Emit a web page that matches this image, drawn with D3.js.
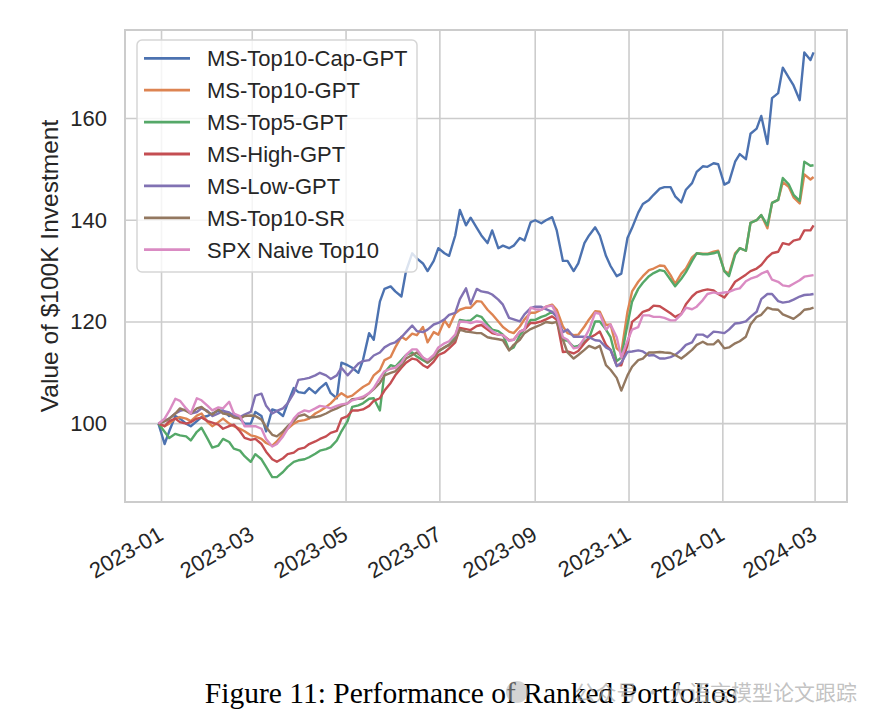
<!DOCTYPE html>
<html>
<head>
<meta charset="utf-8">
<script src="https://cdn.jsdelivr.net/npm/d3@7"></script>
<style>
  body { margin: 0; background: #fff; }
  text { font-family: "Liberation Sans", Arial, Helvetica, sans-serif; fill: #262626; }
</style>
</head>
<body>
<svg id="chart" width="882" height="728"></svg>
<script>
// twice-weekly samples (Tue / Fri)
const dates = [
  '2022-12-30','2023-01-03','2023-01-06','2023-01-10','2023-01-13','2023-01-17','2023-01-20','2023-01-24','2023-01-27',
  '2023-01-31','2023-02-03','2023-02-07','2023-02-10','2023-02-14','2023-02-17','2023-02-21','2023-02-24','2023-02-28',
  '2023-03-03','2023-03-07','2023-03-10','2023-03-14','2023-03-17','2023-03-21','2023-03-24','2023-03-28','2023-03-31',
  '2023-04-04','2023-04-07','2023-04-11','2023-04-14','2023-04-18','2023-04-21','2023-04-25','2023-04-28','2023-05-02',
  '2023-05-05','2023-05-09','2023-05-12','2023-05-16','2023-05-19','2023-05-23','2023-05-26','2023-05-30','2023-06-02',
  '2023-06-06','2023-06-09','2023-06-13','2023-06-16','2023-06-20','2023-06-23','2023-06-27','2023-06-30','2023-07-04',
  '2023-07-07','2023-07-11','2023-07-14','2023-07-18','2023-07-21','2023-07-25','2023-07-28','2023-08-01','2023-08-04',
  '2023-08-08','2023-08-11','2023-08-15','2023-08-18','2023-08-22','2023-08-25','2023-08-29','2023-09-01','2023-09-05',
  '2023-09-08','2023-09-12','2023-09-15','2023-09-19','2023-09-22','2023-09-26','2023-09-29','2023-10-03','2023-10-06',
  '2023-10-10','2023-10-13','2023-10-17','2023-10-20','2023-10-24','2023-10-27','2023-10-31','2023-11-03','2023-11-07',
  '2023-11-10','2023-11-14','2023-11-17','2023-11-21','2023-11-24','2023-11-28','2023-12-01','2023-12-05','2023-12-08',
  '2023-12-12','2023-12-15','2023-12-19','2023-12-22','2023-12-26','2023-12-29','2024-01-02','2024-01-05','2024-01-09',
  '2024-01-12','2024-01-16','2024-01-19','2024-01-23','2024-01-26','2024-01-30','2024-02-02','2024-02-06','2024-02-09',
  '2024-02-13','2024-02-16','2024-02-20','2024-02-23','2024-02-27','2024-02-29'];

const seriesNames = ['MS-Top10-Cap-GPT','MS-Top10-GPT','MS-Top5-GPT','MS-High-GPT','MS-Low-GPT','MS-Top10-SR','SPX Naive Top10'];

const top10Cap = [
  100, 96, 98.5, 101.5, 101, 100, 99.5, 100.5, 101.3, 101.5, 102, 102.5, 102.6, 101.5, 102, 101, 100, 100,
  102.3, 101.5, 98.5, 102.8, 102.5, 101.5, 104, 107, 106.2, 106, 107, 106, 107, 108, 106, 105, 112, 111.5,
  111, 110, 112.5, 117.8, 116.5, 124, 126.5, 127, 126, 125, 130, 133.5, 132.5, 131.5, 130, 132, 134.5, 133.5,
  133, 137, 142, 139, 140.5, 138.5, 137, 135.5, 138, 134.5, 135, 134.5, 135, 136.5, 136, 139.6, 140, 139.4,
  140, 140.6, 138, 132, 132, 130, 131.5, 135.5, 137, 138.6, 137, 133, 131, 129, 129.5, 136.5, 138.5, 141.5,
  143.2, 144, 145, 146.2, 146.5, 146.5, 144.7, 143.5, 146, 147.3, 149.5, 150.6, 150.5, 151.2, 151, 147, 147.5, 151.5,
  153, 152, 157, 158, 160.5, 155, 164, 165, 170, 168, 166.5, 163.6, 173, 171.5, 173];
const top10 = [
  100, 99.5, 100, 101, 101.3, 101, 100.5, 101.6, 102, 100.3, 99.5, 100.3, 101, 100, 99.5, 99, 98.5, 97.7,
  97.5, 97, 96.2, 95.7, 96.5, 98, 99, 100, 100.5, 100.7, 101, 102, 102.5, 103.3, 104, 105.2, 106, 105.2,
  105.5, 106.5, 107.2, 107.9, 109.5, 110.5, 112.5, 113.1, 115, 117.1, 116.5, 117.7, 117.4, 119, 116, 118, 117.5, 120.3,
  119, 121.7, 122.4, 122.8, 122.8, 124.1, 124, 122.4, 121.5, 120.1, 119, 118.1, 117.8, 119.1, 120.5, 121.8, 121.8, 122.4,
  123, 123.4, 122.4, 119.1, 117.8, 117.4, 117.5, 119.1, 120.5, 122.1, 122, 119.4, 119.5, 114.8, 114, 122, 126, 127.9,
  129, 130.2, 130.5, 131.1, 131, 129.2, 127.5, 129.5, 130.5, 132.7, 133.5, 133.4, 133.4, 133.8, 134, 130, 129.5, 133.5,
  134.5, 134, 139.5, 140, 141, 138.4, 143.4, 144, 147.5, 146.5, 144.5, 143.3, 149, 148, 148.5];
const top5 = [
  100, 98.4, 97.2, 98, 97.7, 97.5, 96.7, 98.4, 99.2, 97, 95.3, 95.7, 97, 96.4, 95.1, 94.7, 93.6, 92.5,
  94, 93, 91.5, 89.5, 89.5, 90.5, 91.5, 92.5, 92.8, 93, 93.4, 94.1, 94.7, 95, 95.4, 96.7, 98.5, 100.5,
  103.3, 103.6, 104, 104.9, 105, 102.6, 110, 111.5, 111.2, 112.5, 113.5, 114, 113.2, 112.5, 112, 113, 114.2, 115,
  115.5, 117, 120.4, 120.2, 120.3, 121.3, 121, 119.5, 118.5, 118.2, 117.5, 114.5, 115, 117.4, 118.5, 120.4, 120.4, 121,
  121.3, 122, 121.1, 116.5, 116.3, 115.1, 115.3, 116.1, 116.8, 120.1, 120.1, 118.5, 117, 112.3, 113, 119.5, 124, 126.5,
  127.7, 129, 129.6, 130.2, 130, 128.3, 127, 128.5, 129.8, 132, 133.5, 133.3, 133.3, 133.5, 133.8, 130, 129, 133.2,
  134.5, 134, 139.5, 140, 141, 139, 143.4, 144, 148.3, 147, 145, 143.8, 151.5, 150.7, 150.8];
const high = [
  100, 99.5, 100.5, 101, 100.3, 100, 100.3, 101, 101.2, 100.5, 100.2, 99.8, 99, 99.5, 99.8, 98.5, 97.2, 96.8,
  97, 96, 94.5, 93, 92.5, 93.2, 94, 94.3, 95, 95.3, 96, 96.5, 97, 97.5, 98.2, 98.6, 101, 101.5,
  102.6, 102.6, 102.8, 103.5, 104.5, 105, 106.5, 108, 109.5, 111, 112, 112.8, 112.6, 111.5, 111, 112.2, 113.5, 114,
  114.8, 116, 118.8, 118.6, 118.4, 119.2, 119.4, 118.5, 117.8, 117.5, 117.4, 116.4, 116.5, 118.1, 118.5, 119.8, 119.8, 120.1,
  120.5, 121.1, 120.4, 114.1, 114.2, 113.8, 114.3, 115.8, 116.8, 117.5, 118.1, 115.5, 114.5, 111.5, 111.5, 115.5, 120, 121,
  122, 122.4, 123.2, 123.1, 122.5, 121.7, 121, 121.6, 123.5, 125, 125.8, 126.2, 126.4, 126.2, 125.5, 124.8, 126, 127.9,
  128.5, 129.3, 130, 130.5, 131.2, 132.7, 133.5, 133.8, 135.5, 135.2, 136, 136.3, 138, 138, 139];
const low = [
  100, 100.5, 101, 102, 102.5, 102.8, 102, 102.3, 103, 102.5, 101.5, 102, 102.5, 102.2, 101.5, 101.3, 101.8, 102.3,
  105.5, 105.9, 103.5, 102, 102.5, 103, 104, 106, 108.6, 108.8, 109, 109.5, 110, 109.5, 108.8, 109.5, 111, 109.5,
  110.5, 111.8, 112.3, 112.5, 113.4, 114, 115, 115.7, 116, 117, 118, 119.3, 118.2, 118, 118.5, 119.5, 119.8, 120.5,
  121.4, 121.8, 124.5, 126.6, 123.5, 126.5, 126, 125.8, 125.4, 124.4, 123.4, 120.8, 120.5, 120.1, 121.5, 122.7, 123, 123,
  122.5, 122, 121, 118, 118.5, 117.1, 117.1, 117.1, 117, 116.4, 116.3, 115, 114.5, 111.3, 112, 114.1, 114.2, 114.4,
  114.2, 113.4, 113.5, 112.8, 112.8, 113.1, 113.5, 114.5, 115.5, 116, 117.5, 117.5, 117, 118.1, 118, 117.8, 118.5, 119.7,
  119.8, 120.1, 121, 122, 124.5, 125.5, 125.5, 124.1, 123.8, 124, 124.4, 125, 125.3, 125.4, 125.5];
const top10SR = [
  100, 100.5, 101, 102, 103, 102.5, 102, 103, 103.3, 102.3, 101.8, 102.8, 102, 101.8, 101.2, 101, 101.5, 101.6,
  101.5, 100.8, 99.3, 97.8, 97.5, 98.5, 99.5, 100.5, 101.5, 101.8, 101.2, 101.3, 101.5, 102, 102.5, 103, 103.5, 104,
  104.8, 104.9, 105, 106, 106.8, 108, 109.5, 110, 110.3, 111.5, 112.8, 113.5, 114, 113, 112, 113, 114.3, 115,
  115.5, 116.5, 118.5, 118.1, 118, 117.8, 117.8, 117, 116.8, 116.6, 116.4, 114.4, 115.5, 116.5, 117.8, 118.6, 119, 119.5,
  120, 119.8, 120, 116.5, 114, 112.8, 113.5, 114.5, 115.3, 114.8, 115.3, 111.5, 110.6, 109, 106.5, 109.5, 111.2, 112.5,
  112.8, 114, 114, 114.1, 114, 113.9, 113.5, 112.8, 113.5, 114.5, 115.5, 116.1, 115.6, 115.6, 116.4, 114.8, 115, 115.8,
  116.2, 117.1, 119.5, 121, 121.4, 122.8, 122.5, 122.4, 121.5, 121, 120.6, 121.5, 122.4, 122.6, 122.8];
const spxNaive = [
  100, 101, 102.5, 104.9, 104.5, 103, 102, 105, 104.6, 103.5, 102.6, 103.2, 103, 104.3, 102, 101.5, 99.5, 99.5,
  99.5, 99, 97, 95.5, 96, 97.5, 99, 101, 102, 102.6, 102.4, 103, 103.5, 103.3, 103, 103.5, 103.8, 104,
  104.6, 105, 105.3, 106, 107, 109, 110.3, 110.8, 111, 112, 113.5, 114.6, 114.6, 113, 112.5, 113.5, 115, 115.8,
  116.2, 117.5, 120.1, 120, 119.8, 120.1, 120, 119, 118.2, 117.5, 117.4, 116.3, 116.5, 118.1, 118.5, 122.8, 122.5, 122.4,
  123, 123.2, 121.5, 117, 116.5, 114.8, 115, 116.8, 118.5, 121.8, 121.6, 118.5, 119.5, 117, 113, 116.3, 118.5, 119,
  121.3, 121.3, 121, 121, 120.8, 120.3, 120.3, 121.5, 122.8, 122.5, 123, 124.3, 125.5, 125.8, 125.6, 125.8, 125.9, 126.4,
  126.6, 128, 128.5, 128.9, 129.5, 130, 128.3, 127.9, 127.2, 127, 127.5, 128.2, 128.9, 129.1, 129.2];

const xTickLabels = ['2023-01','2023-03','2023-05','2023-07','2023-09','2023-11','2024-01','2024-03'];
const yTicks = [100, 120, 140, 160];
const colors = ['#4c72b0','#dd8452','#55a868','#c44e52','#8172b3','#937860','#da8bc3'];

const allSeries = [top10Cap, top10, top5, high, low, top10SR, spxNaive];

const svg = d3.select('#chart');
const plotLeft = 125, plotRight = 847, plotTop = 30, plotBottom = 502;

const parse = d3.timeParse('%Y-%m-%d');
const parseMonth = d3.timeParse('%Y-%m');
const dayList = dates.map(parse);

const xScale = d3.scaleTime()
                 .domain([new Date(2022, 11, 8, 6), new Date(2024, 2, 21, 18)])
                 .range([plotLeft, plotRight]);
const yScale = d3.scaleLinear()
                 .domain([84.6, 177.4])
                 .range([plotBottom, plotTop]);

// grid
svg.append('g')
   .selectAll('line')
   .data(xTickLabels.map(parseMonth))
   .enter()
     .append('line')
     .attr('x1', d => xScale(d)).attr('x2', d => xScale(d))
     .attr('y1', plotTop).attr('y2', plotBottom)
     .attr('stroke', '#cccccc').attr('stroke-width', 1.6);
svg.append('g')
   .selectAll('line')
   .data(yTicks)
   .enter()
     .append('line')
     .attr('x1', plotLeft).attr('x2', plotRight)
     .attr('y1', d => yScale(d)).attr('y2', d => yScale(d))
     .attr('stroke', '#cccccc').attr('stroke-width', 1.6);

// series
const line = d3.line()
               .x((d, i) => xScale(dayList[i]))
               .y(d => yScale(d));

svg.append('g')
   .selectAll('path')
   .data(allSeries)
   .enter()
     .append('path')
     .attr('d', d => line(d))
     .attr('fill', 'none')
     .attr('stroke', (d, i) => colors[i])
     .attr('stroke-width', 2.4)
     .attr('stroke-linejoin', 'round');

// frame
svg.append('rect')
   .attr('x', plotLeft).attr('y', plotTop)
   .attr('width', plotRight - plotLeft).attr('height', plotBottom - plotTop)
   .attr('fill', 'none').attr('stroke', '#cccccc').attr('stroke-width', 2);

// axes
const xAxis = d3.axisBottom(xScale)
                .tickValues(xTickLabels.map(parseMonth))
                .tickFormat(d3.timeFormat('%Y-%m'))
                .tickSize(0);
const gx = svg.append('g')
              .attr('transform', 'translate(0,' + plotBottom + ')')
              .call(xAxis);
gx.select('.domain').remove();
gx.selectAll('text')
  .attr('x', 0).attr('y', 0).attr('dy', '0.71em')
  .attr('text-anchor', 'end')
  .attr('transform', 'translate(-5,23) rotate(-30)')
  .style('font-size', '22px')
  .style('fill', '#262626');

const yAxis = d3.axisLeft(yScale)
                .tickValues(yTicks)
                .tickSize(0)
                .tickPadding(18);
const gy = svg.append('g')
              .attr('transform', 'translate(' + plotLeft + ',0)')
              .call(yAxis);
gy.select('.domain').remove();
gy.selectAll('text')
  .style('font-size', '22px')
  .style('fill', '#262626');

svg.append('text')
   .attr('transform', 'rotate(-90)')
   .attr('x', -(plotTop + plotBottom) / 2)
   .attr('y', 58)
   .attr('text-anchor', 'middle')
   .style('font-size', '24.5px')
   .text('Value of $100K Investment');

// legend
svg.append('rect')
   .attr('x', 137).attr('y', 40)
   .attr('width', 280).attr('height', 232)
   .attr('rx', 5)
   .attr('fill', 'white').attr('fill-opacity', 0.8)
   .attr('stroke', '#d6d6d6').attr('stroke-width', 1.5);

const legend = svg.selectAll('.legend')
                  .data(seriesNames)
                  .enter()
                    .append('g')
                    .attr('class', 'legend')
                    .attr('transform', (d, i) => 'translate(0,' + (58.3 + i * 31.9) + ')');
legend.append('line')
      .attr('x1', 144).attr('x2', 190)
      .attr('stroke', (d, i) => colors[i])
      .attr('stroke-width', 2.8);
legend.append('text')
      .attr('x', 207)
      .attr('dy', '0.36em')
      .style('font-size', '22px')
      .text(d => d);

// caption
svg.append('text')
   .attr('x', 471).attr('y', 703)
   .attr('text-anchor', 'middle')
   .style('font-family', '"Liberation Serif", "Times New Roman", serif')
   .style('font-size', '29.5px')
   .style('fill', '#000')
   .text('Figure 11: Performance of Ranked Portfolios');

// watermark (overlaps the caption in the original too)
svg.append('circle')
   .attr('cx', 517).attr('cy', 692).attr('r', 11)
   .attr('fill', '#b0b0b0').attr('fill-opacity', 0.55);
svg.append('text')
   .attr('x', 857).attr('y', 700)
   .attr('text-anchor', 'end')
   .style('font-family', '"Noto Sans CJK SC", sans-serif')
   .style('font-size', '21px')
   .style('fill', '#a8a8a8')
   .style('fill-opacity', 0.7)
   .text('公众号 · 大语言模型论文跟踪');
</script>
</body>
</html>
